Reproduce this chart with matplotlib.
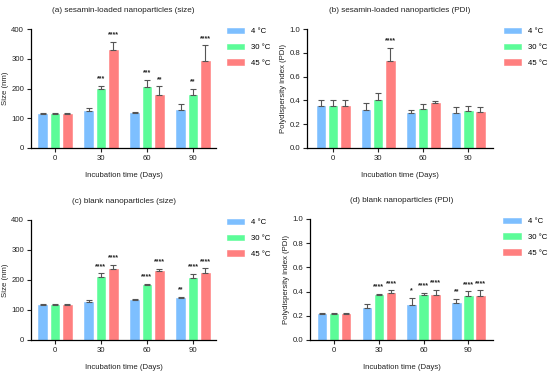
import matplotlib
matplotlib.use("Agg")
import matplotlib.pyplot as plt
import numpy as np

plt.rcParams['font.family'] = ['Liberation Sans', 'DejaVu Sans']

days = ["0", "30", "60", "90"]
temps = ["4 °C", "30 °C", "45 °C"]
colors = ["#7DBFFF", "#5CFC98", "#FF7F7F"]

# (a) sesamin-loaded size
a_vals = [[113, 125, 116, 129], [113, 199, 206, 179], [113, 331, 178, 291]]
a_err = [[5, 9, 6, 19], [5, 9, 22, 19], [5, 26, 29, 54]]
a_sig = [["", "", "", ""], ["", "***", "***", "**"], ["", "****", "**", "****"]]

# (b) sesamin-loaded PDI
b_vals = [[0.35, 0.32, 0.29, 0.29], [0.35, 0.40, 0.33, 0.31], [0.35, 0.735, 0.375, 0.304]]
b_err = [[0.05, 0.06, 0.03, 0.055], [0.05, 0.065, 0.04, 0.045], [0.05, 0.105, 0.02, 0.04]]
b_sig = [["", "", "", ""], ["", "", "", ""], ["", "****", "", ""]]

# (c) blank size
c_vals = [[117, 127, 132, 140], [117, 209, 184, 207], [117, 238, 230, 225]]
c_err = [[2, 5, 4, 3], [2, 13, 3, 13], [2, 13, 8, 14]]
c_sig = [["", "", "", "**"], ["", "****", "****", "****"], ["", "****", "****", "****"]]

# (d) blank PDI
d_vals = [[0.215, 0.262, 0.287, 0.304], [0.215, 0.376, 0.37, 0.367], [0.215, 0.39, 0.37, 0.365]]
d_err = [[0.012, 0.036, 0.06, 0.036], [0.012, 0.008, 0.02, 0.036], [0.012, 0.02, 0.044, 0.045]]
d_sig = [["", "", "*", "**"], ["", "****", "****", "****"], ["", "****", "****", "****"]]

W, H = 550, 374
fig = plt.figure(figsize=(W / 100, H / 100), dpi=100)

def px_axes(l, t, r, b):
    return fig.add_axes([l / W, 1 - b / H, (r - l) / W, (b - t) / H])

panels = [
    (px_axes(31, 29, 216, 148), a_vals, a_err, a_sig, "(a) sesamin-loaded nanoparticles (size)", "Size (nm)", 400, 100, "{:.0f}", (-0.52, 3.5)),
    (px_axes(307, 29, 493, 148), b_vals, b_err, b_sig, "(b) sesamin-loaded nanoparticles (PDI)", "Polydispersity index (PDI)", 1.0, 0.2, "{:.1f}", (-0.58, 3.55)),
    (px_axes(31, 220, 216, 340), c_vals, c_err, c_sig, "(c) blank nanoparticles (size)", "Size (nm)", 400, 100, "{:.0f}", (-0.52, 3.5)),
    (px_axes(310, 219, 493, 340), d_vals, d_err, d_sig, "(d) blank nanoparticles (PDI)", "Polydispersity index (PDI)", 1.0, 0.2, "{:.1f}", (-0.54, 3.55)),
]

x = np.arange(len(days))
bw = 0.19
off = 0.27
fs = 5.6
for ax, vals, errs, sigs, title, ylab, ymax, ystep, fmt, xl in panels:
    for i in range(3):
        pos = x + (i - 1) * off
        v = np.array(vals[i]); e = np.array(errs[i])
        ax.bar(pos, v, width=bw, color=colors[i], edgecolor=colors[i], linewidth=0.4,
               label=temps[i], zorder=2)
        ax.errorbar(pos, v, yerr=[np.zeros_like(e), e], fmt='none', ecolor='#555555',
                    elinewidth=0.8, capsize=2, capthick=0.8, zorder=3)
        for p, vv, ee, s in zip(pos, v, e, sigs[i]):
            if s:
                ax.annotate(s, (p, vv + ee), xytext=(0, 2.5), textcoords='offset points',
                            ha='center', va='bottom', fontsize=5, fontweight='bold', color='#222222')
    ax.set_ylim(0, ymax)
    ax.set_yticks(np.arange(0, ymax + ystep / 2, ystep))
    ax.set_yticklabels([fmt.format(t) for t in np.arange(0, ymax + ystep / 2, ystep)])
    ax.set_xlim(*xl)
    ax.set_xticks(x)
    ax.set_xticklabels(days)
    for sp in ['top', 'right']:
        ax.spines[sp].set_visible(False)
    for sp in ['left', 'bottom']:
        ax.spines[sp].set_linewidth(0.9)
    ax.tick_params(labelsize=fs, width=0.8, length=3, pad=2, colors='#222222')
    ax.set_title(title, fontsize=fs + 0.3, pad=12, color='#222222')
    ax.set_xlabel("Incubation time (Days)", fontsize=fs, labelpad=7, color='#222222')
    ax.set_ylabel(ylab, fontsize=fs, labelpad=1.5, color='#222222')
    ax.legend(loc='upper left', bbox_to_anchor=(1.04, 1.035), frameon=False, fontsize=fs,
              handlelength=2.3, handleheight=0.7, handletextpad=0.8, labelspacing=1.05,
              borderaxespad=0.0)

fig.savefig("out.png", dpi=100)
